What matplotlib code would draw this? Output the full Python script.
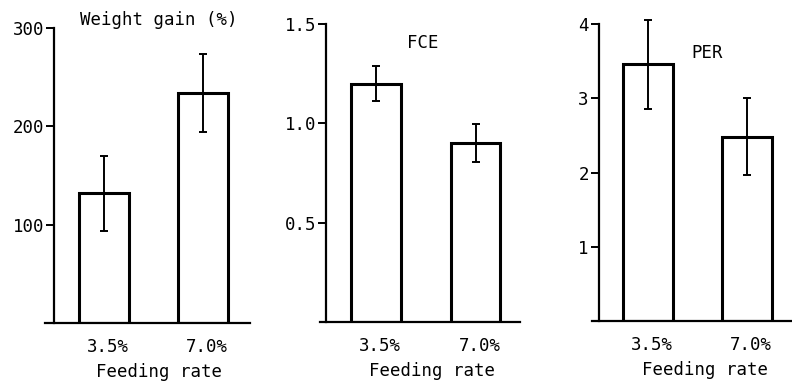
import matplotlib.pyplot as plt

# feeding rate experiment: three panels
rates = ["3.5%", "7.0%"]
weight_gain = [132, 234]
weight_gain_err = [38, 40]
fce = [1.20, 0.90]
fce_err = [0.09, 0.095]
per = [3.46, 2.48]
per_err = [0.60, 0.52]

W, H = 792, 383
plt.rcParams["font.family"] = ["DejaVu Sans Mono"]
FS = 12.5

fig = plt.figure(figsize=(W / 100, H / 100), dpi=100)


def px_axes(left, right, top, bottom):
    # pixel box -> figure fraction
    return fig.add_axes([left / W, 1 - bottom / H, (right - left) / W, (bottom - top) / H])


def panel(ax, vals, errs, ymax, yticks, yticklabels, xlim, label, label_xy, xlabel_x):
    x = [0, 1]
    ax.bar(x, vals, width=0.5, color="white", edgecolor="black", linewidth=2.2, zorder=2)
    ax.errorbar(x, vals, yerr=errs, fmt="none", ecolor="black", elinewidth=1.4,
                capsize=2.8, capthick=1.4, zorder=3, clip_on=False)
    ax.set_xlim(*xlim)
    ax.set_ylim(0, ymax)
    ax.spines["top"].set_visible(False)
    ax.spines["right"].set_visible(False)
    ax.spines["left"].set_position(("data", -0.5))
    ax.spines["left"].set_linewidth(1.6)
    ax.spines["bottom"].set_linewidth(1.6)
    ax.set_yticks(yticks)
    ax.set_yticklabels(yticklabels)
    ax.set_xticks([0.04, 1.04])
    ax.set_xticklabels(rates)
    ax.tick_params(axis="y", length=6, width=1.4, labelsize=FS, pad=1)
    ax.tick_params(axis="x", length=0, labelsize=FS, pad=11)
    ax.set_xlabel("Feeding rate", fontsize=FS)
    ax.xaxis.set_label_coords(xlabel_x, -0.135)
    ax.text(label_xy[0], label_xy[1], label, transform=ax.transAxes,
            ha="center", va="center", fontsize=FS)


ax1 = px_axes(45, 250, 28, 323)
panel(ax1, weight_gain, weight_gain_err, 300, [100, 200, 300], ["100", "200", "300"],
      (-0.59, 1.47), "Weight gain (%)", ((159 - 45) / 205, (323 - 20) / 295), (159 - 45) / 205)

ax2 = px_axes(320, 520, 24, 322)
panel(ax2, fce, fce_err, 1.5, [0.5, 1.0, 1.5], ["0.5", "1.0", "1.5"],
      (-0.563, 1.447), "FCE", ((423 - 320) / 200, (322 - 43) / 298), (432 - 320) / 200)

ax3 = px_axes(592, 792, 24, 321)
panel(ax3, per, per_err, 4, [1, 2, 3, 4], ["1", "2", "3", "4"],
      (-0.566, 1.455), "PER", ((707 - 592) / 200, (321 - 53) / 297), (705 - 592) / 200)

fig.savefig("out.png", dpi=100)
